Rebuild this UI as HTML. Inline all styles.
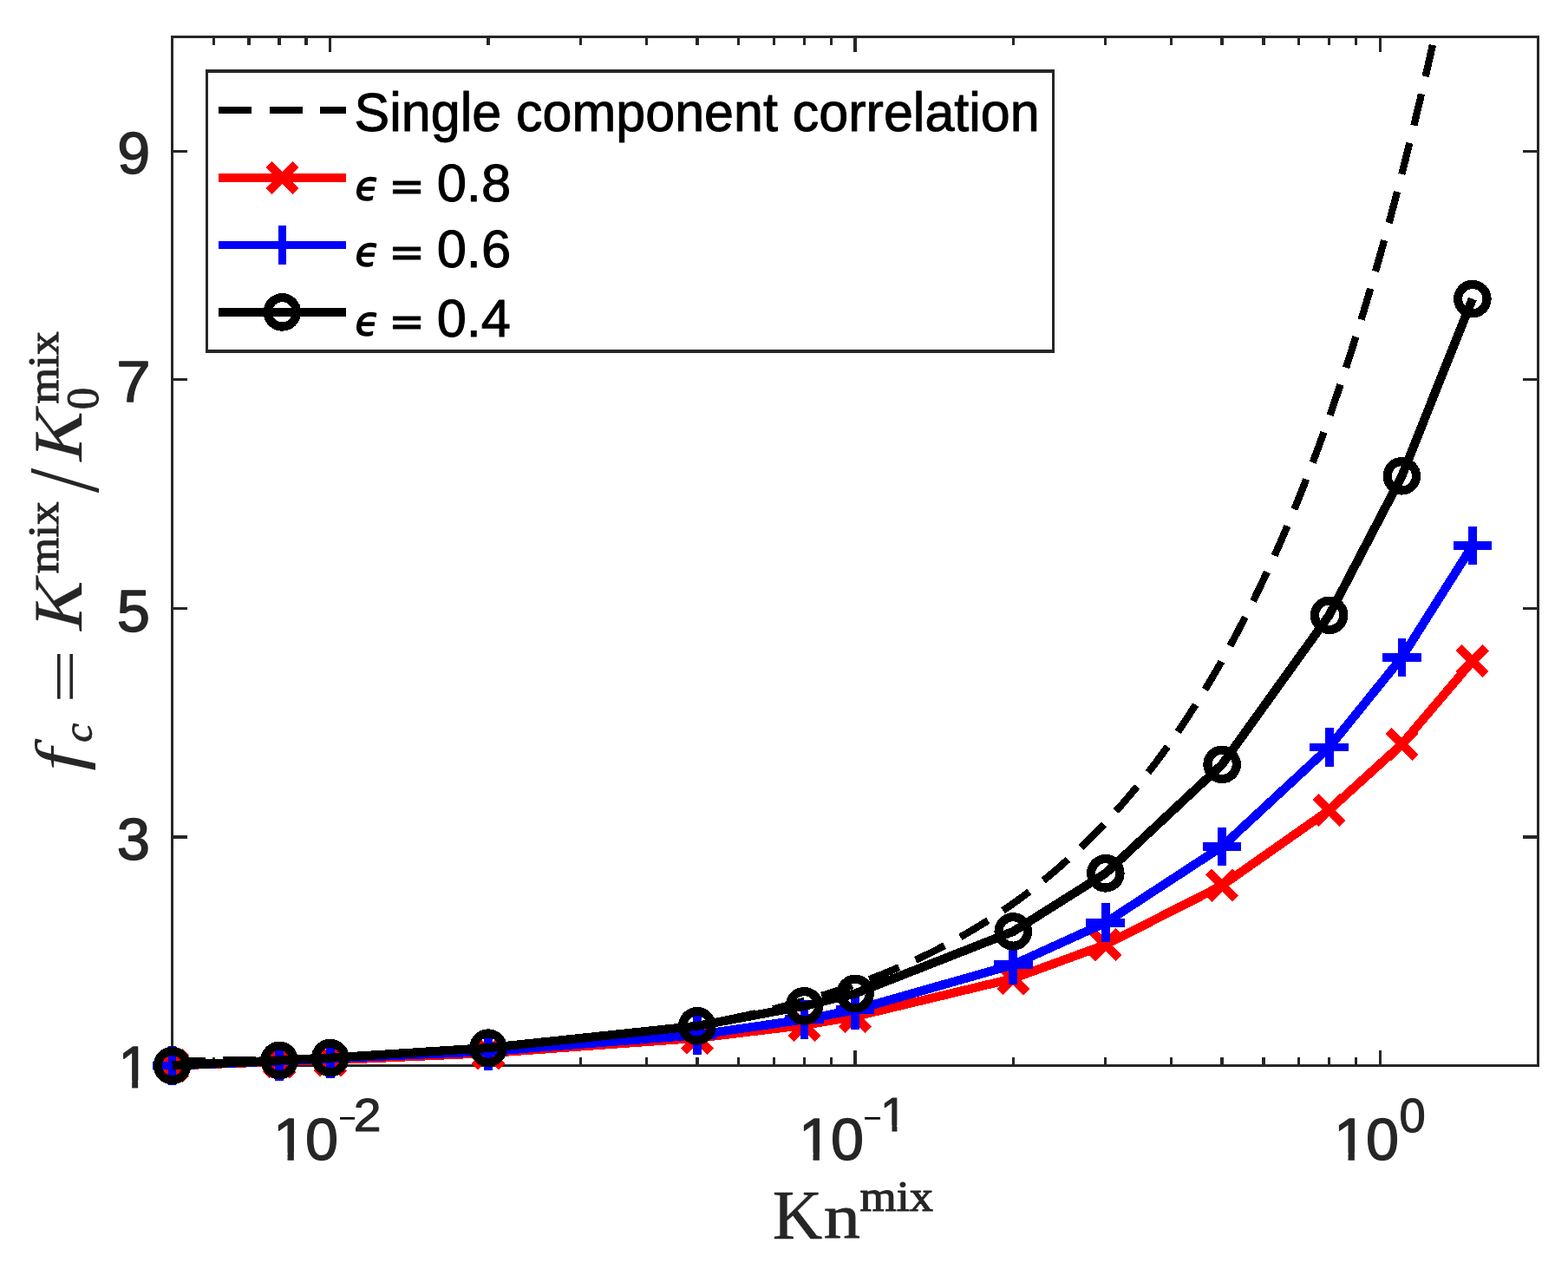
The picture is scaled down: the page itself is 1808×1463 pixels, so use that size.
<!DOCTYPE html>
<html lang="en"><head><meta charset="utf-8"><title>Kn mix</title>
<style>
html,body{margin:0;padding:0;background:#fff}
svg{display:block}
</style></head><body>
<svg width="1808" height="1463" viewBox="0 0 1808 1463" shape-rendering="crispEdges">
<rect width="1808" height="1463" fill="#fff"/>
<defs><clipPath id="cp"><rect x="198.6" y="42.5" width="1574.9" height="1186.0"/></clipPath><clipPath id="c10" shape-rendering="geometricPrecision"><rect x="0" y="-80" width="125" height="67.5"/><rect x="24.3" y="-13.5" width="10.6" height="14.5"/><rect x="55" y="-13.5" width="65" height="17"/></clipPath><clipPath id="c1" shape-rendering="geometricPrecision"><rect x="0" y="-80" width="60" height="67.5"/><rect x="24.3" y="-13.5" width="10.6" height="14.5"/></clipPath></defs>
<g fill="none" stroke="#262626"><path stroke-width="3.3" d="M246.52 1228.5v-9.1M246.52 42.5v9.1M287.04 1228.5v-9.1M287.04 42.5v9.1M322.14 1228.5v-9.1M322.14 42.5v9.1M353.1 1228.5v-9.1M353.1 42.5v9.1M380.8 1228.5v-17.3M380.8 42.5v17.3M563 1228.5v-9.1M563 42.5v9.1M669.58 1228.5v-9.1M669.58 42.5v9.1M745.2 1228.5v-9.1M745.2 42.5v9.1M803.85 1228.5v-9.1M803.85 42.5v9.1M851.78 1228.5v-9.1M851.78 42.5v9.1M892.3 1228.5v-9.1M892.3 42.5v9.1M927.4 1228.5v-9.1M927.4 42.5v9.1M958.36 1228.5v-9.1M958.36 42.5v9.1M986.05 1228.5v-17.3M986.05 42.5v17.3M1168.25 1228.5v-9.1M1168.25 42.5v9.1M1274.83 1228.5v-9.1M1274.83 42.5v9.1M1350.45 1228.5v-9.1M1350.45 42.5v9.1M1409.1 1228.5v-9.1M1409.1 42.5v9.1M1457.03 1228.5v-9.1M1457.03 42.5v9.1M1497.55 1228.5v-9.1M1497.55 42.5v9.1M1532.65 1228.5v-9.1M1532.65 42.5v9.1M1563.61 1228.5v-9.1M1563.61 42.5v9.1M1591.3 1228.5v-17.3M1591.3 42.5v17.3M198.6 964.94h17.3M1773.5 964.94h-17.3M198.6 701.39h17.3M1773.5 701.39h-17.3M198.6 437.83h17.3M1773.5 437.83h-17.3M198.6 174.28h17.3M1773.5 174.28h-17.3"/><rect stroke-width="2.8" x="198.6" y="42.5" width="1574.9" height="1186.0"/></g>
<text font-size="100" transform="matrix(0.682 0 0 0.6849 135.32 199.62)" font-family="'Liberation Sans',sans-serif" fill="#262626" stroke="#262626" stroke-width="2.05" stroke-linejoin="round">9</text>
<text font-size="100" transform="matrix(0.7084 0 0 0.6739 134.31 463.2)" font-family="'Liberation Sans',sans-serif" fill="#262626" stroke="#262626" stroke-width="2.03" stroke-linejoin="round">7</text>
<text font-size="100" transform="matrix(0.6887 0 0 0.68 134.85 727.52)" font-family="'Liberation Sans',sans-serif" fill="#262626" stroke="#262626" stroke-width="2.05" stroke-linejoin="round">5</text>
<text font-size="100" transform="matrix(0.6887 0 0 0.6877 134.85 990.51)" font-family="'Liberation Sans',sans-serif" fill="#262626" stroke="#262626" stroke-width="2.03" stroke-linejoin="round">3</text>
<text font-size="100" transform="matrix(0.6513 0 0 0.6855 136.4 1254)" font-family="'Liberation Sans',sans-serif" fill="#262626" stroke="#262626" stroke-width="2.1" stroke-linejoin="round" clip-path="url(#c1)">1</text>
<text font-size="100" transform="matrix(0.684 0 0 0.689 314.96 1337.4)" font-family="'Liberation Sans',sans-serif" letter-spacing="-1.42" fill="#262626" stroke="#262626" stroke-width="2.04" stroke-linejoin="round" clip-path="url(#c10)">10</text><text font-size="100" transform="matrix(0.3493 0 0 0.3818 390.25 1302.23)" font-family="'Liberation Sans',sans-serif" fill="#000">−</text><text font-size="100" transform="matrix(0.5715 0 0 0.544 407.69 1304.35)" font-family="'Liberation Sans',sans-serif" fill="#262626" stroke="#262626" stroke-width="1.97" stroke-linejoin="round">2</text>
<text font-size="100" transform="matrix(0.684 0 0 0.689 920.96 1337.4)" font-family="'Liberation Sans',sans-serif" letter-spacing="-1.42" fill="#262626" stroke="#262626" stroke-width="2.04" stroke-linejoin="round" clip-path="url(#c10)">10</text><text font-size="100" transform="matrix(0.3678 0 0 0.3818 995.26 1302.23)" font-family="'Liberation Sans',sans-serif" fill="#000">−</text><text font-size="100" transform="matrix(0.5526 0 0 0.5464 1015.11 1304.35)" font-family="'Liberation Sans',sans-serif" fill="#262626" stroke="#262626" stroke-width="2" stroke-linejoin="round" clip-path="url(#c1)">1</text>
<text font-size="100" transform="matrix(0.684 0 0 0.689 1537.96 1337.4)" font-family="'Liberation Sans',sans-serif" letter-spacing="-1.42" fill="#262626" stroke="#262626" stroke-width="2.04" stroke-linejoin="round" clip-path="url(#c10)">10</text><text font-size="100" transform="matrix(0.5434 0 0 0.5476 1613.48 1304.8)" font-family="'Liberation Sans',sans-serif" fill="#262626" stroke="#262626" stroke-width="2.02" stroke-linejoin="round">0</text>
<text font-size="100" transform="matrix(0.7961 0 0 0.7964 890.76 1427.55)" font-family="'Liberation Serif',serif" fill="#262626" stroke="#262626" stroke-width="0.63" stroke-linejoin="round">K<tspan x="74.07" y="-0.1" font-size="90.29" textLength="52.98" lengthAdjust="spacingAndGlyphs" stroke-width="1">n</tspan></text><text font-size="100" transform="matrix(0.5435 0 0 0.5035 991.51 1396.1)" font-family="'Liberation Serif',serif" fill="#262626" stroke="#262626" stroke-width="2.29" stroke-linejoin="round">mix</text>
<g transform="rotate(-90)"><text font-size="100" transform="matrix(0.9474 0 0 0.7658 -888.76 93.76)" font-family="'Liberation Serif',serif" font-style="italic" fill="#262626">f</text><text font-size="100" transform="matrix(0.5008 0 0 0.4917 -855.9 105.71)" font-family="'Liberation Serif',serif" font-style="italic" fill="#262626" stroke="#262626" stroke-width="1.61" stroke-linejoin="round">c</text><text font-size="100" transform="matrix(1.1121 0 0 0.72 -811.26 98.68)" font-family="'Liberation Serif',serif" fill="#262626">=</text><text font-size="100" transform="matrix(0.8143 0 -0.203 0.7995 -730.29 93.65)" font-family="'Liberation Serif',serif" fill="#262626" stroke="#262626" stroke-width="0.37" stroke-linejoin="round">K</text><text font-size="100" transform="matrix(0.533 0 0 0.5095 -661.27 66.5)" font-family="'Liberation Serif',serif" fill="#262626" stroke="#262626" stroke-width="2.3" stroke-linejoin="round">mix</text><text font-size="100" transform="matrix(1.0265 0 0 1.1597 -568.2 112.54)" font-family="'Liberation Serif',serif" fill="#262626">/</text><text font-size="100" transform="matrix(0.8143 0 -0.203 0.7995 -534.99 93.65)" font-family="'Liberation Serif',serif" fill="#262626" stroke="#262626" stroke-width="0.37" stroke-linejoin="round">K</text><text font-size="100" transform="matrix(0.5109 0 0 0.5257 -472.37 113.17)" font-family="'Liberation Serif',serif" fill="#262626" stroke="#262626" stroke-width="1.93" stroke-linejoin="round">0</text><text font-size="100" transform="matrix(0.535 0 0 0.5095 -465.57 66.5)" font-family="'Liberation Serif',serif" fill="#262626" stroke="#262626" stroke-width="2.3" stroke-linejoin="round">mix</text></g>
<polyline clip-path="url(#cp)" points="198.6,1223.83 204.24,1223.73 209.88,1223.62 215.53,1223.52 221.17,1223.41 226.81,1223.3 232.45,1223.19 238.1,1223.07 243.74,1222.95 249.38,1222.83 255.02,1222.71 260.67,1222.58 266.31,1222.46 271.95,1222.32 277.59,1222.19 283.24,1222.05 288.88,1221.91 294.52,1221.77 300.16,1221.63 305.81,1221.48 311.45,1221.32 317.09,1221.17 322.73,1221.01 328.38,1220.85 334.02,1220.68 339.66,1220.51 345.3,1220.34 350.95,1220.16 356.59,1219.98 362.23,1219.79 367.87,1219.61 373.52,1219.41 379.16,1219.22 384.8,1219.01 390.44,1218.81 396.09,1218.6 401.73,1218.38 407.37,1218.16 413.01,1217.94 418.66,1217.71 424.3,1217.48 429.94,1217.24 435.58,1216.99 441.23,1216.74 446.87,1216.49 452.51,1216.23 458.15,1215.96 463.8,1215.69 469.44,1215.41 475.08,1215.13 480.72,1214.84 486.37,1214.54 492.01,1214.24 497.65,1213.93 503.29,1213.61 508.94,1213.29 514.58,1212.96 520.22,1212.62 525.86,1212.28 531.51,1211.92 537.15,1211.56 542.79,1211.2 548.43,1210.82 554.08,1210.44 559.72,1210.05 565.36,1209.65 571,1209.24 576.65,1208.82 582.29,1208.39 587.93,1207.96 593.57,1207.51 599.22,1207.05 604.86,1206.59 610.5,1206.11 616.14,1205.63 621.79,1205.13 627.43,1204.62 633.07,1204.11 638.71,1203.58 644.36,1203.04 650,1202.48 655.64,1201.92 661.28,1201.34 666.93,1200.75 672.57,1200.15 678.21,1199.54 683.85,1198.91 689.49,1198.27 695.14,1197.61 700.78,1196.94 706.42,1196.25 712.06,1195.55 717.71,1194.84 723.35,1194.11 728.99,1193.36 734.63,1192.6 740.28,1191.82 745.92,1191.03 751.56,1190.21 757.2,1189.38 762.85,1188.53 768.49,1187.67 774.13,1186.78 779.77,1185.87 785.42,1184.95 791.06,1184 796.7,1183.04 802.34,1182.05 807.99,1181.05 813.63,1180.02 819.27,1178.96 824.91,1177.89 830.56,1176.79 836.2,1175.67 841.84,1174.52 847.48,1173.35 853.13,1172.15 858.77,1170.93 864.41,1169.68 870.05,1168.41 875.7,1167.1 881.34,1165.77 886.98,1164.41 892.62,1163.02 898.27,1161.6 903.91,1160.15 909.55,1158.66 915.19,1157.15 920.84,1155.6 926.48,1154.02 932.12,1152.4 937.76,1150.75 943.41,1149.06 949.05,1147.34 954.69,1145.58 960.33,1143.78 965.98,1141.94 971.62,1140.06 977.26,1138.14 982.9,1136.18 988.55,1134.18 994.19,1132.13 999.83,1130.04 1005.47,1127.91 1011.12,1125.72 1016.76,1123.49 1022.4,1121.22 1028.04,1118.89 1033.69,1116.51 1039.33,1114.08 1044.97,1111.6 1050.61,1109.06 1056.26,1106.47 1061.9,1103.82 1067.54,1101.12 1073.18,1098.35 1078.83,1095.53 1084.47,1092.64 1090.11,1089.69 1095.75,1086.68 1101.4,1083.61 1107.04,1080.46 1112.68,1077.25 1118.32,1073.97 1123.97,1070.61 1129.61,1067.19 1135.25,1063.69 1140.89,1060.11 1146.54,1056.46 1152.18,1052.73 1157.82,1048.91 1163.46,1045.02 1169.11,1041.03 1174.75,1036.97 1180.39,1032.81 1186.03,1028.56 1191.67,1024.23 1197.32,1019.79 1202.96,1015.27 1208.6,1010.64 1214.24,1005.91 1219.89,1001.08 1225.53,996.15 1231.17,991.11 1236.81,985.96 1242.46,980.69 1248.1,975.32 1253.74,969.82 1259.38,964.21 1265.03,958.47 1270.67,952.62 1276.31,946.63 1281.95,940.51 1287.6,934.26 1293.24,927.88 1298.88,921.36 1304.52,914.69 1310.17,907.88 1315.81,900.93 1321.45,893.82 1327.09,886.56 1332.74,879.14 1338.38,871.56 1344.02,863.81 1349.66,855.9 1355.31,847.82 1360.95,839.56 1366.59,831.12 1372.23,822.49 1377.88,813.68 1383.52,804.68 1389.16,795.49 1394.8,786.09 1400.45,776.49 1406.09,766.69 1411.73,756.66 1417.37,746.43 1423.02,735.97 1428.66,725.28 1434.3,714.36 1439.94,703.21 1445.59,691.81 1451.23,680.16 1456.87,668.26 1462.51,656.11 1468.16,643.69 1473.8,631 1479.44,618.03 1485.08,604.79 1490.73,591.26 1496.37,577.43 1502.01,563.3 1507.65,548.87 1513.3,534.12 1518.94,519.06 1524.58,503.66 1530.22,487.93 1535.87,471.87 1541.51,455.45 1547.15,438.67 1552.79,421.54 1558.44,404.03 1564.08,386.14 1569.72,367.86 1575.36,349.19 1581.01,330.11 1586.65,310.61 1592.29,290.7 1597.93,270.35 1603.58,249.56 1609.22,228.32 1614.86,206.62 1620.5,184.44 1626.15,161.79 1631.79,138.64 1637.43,115 1643.07,90.84 1648.72,66.15 1654.36,40.93 1660,15.16" fill="none" stroke="#000" stroke-width="8.3" stroke-dasharray="37.3 20.7" stroke-dashoffset="57.2"/>
<polyline points="198.6,1228.5 322.14,1224 380.8,1222.3 563,1214.1 803.85,1196.8 927.4,1181.9 986.05,1171.9 1168.25,1128.1 1274.83,1089.1 1409.1,1020.8 1532.65,934 1616.35,858 1697.88,762.1" fill="none" stroke="#f00" stroke-width="10.2" stroke-linejoin="miter" stroke-linecap="butt"/>
<path d="M186.7 1216.6L210.5 1240.4M186.7 1240.4L210.5 1216.6M310.24 1212.1L334.04 1235.9M310.24 1235.9L334.04 1212.1M368.9 1210.4L392.7 1234.2M368.9 1234.2L392.7 1210.4M551.1 1202.2L574.9 1226M551.1 1226L574.9 1202.2M791.95 1184.9L815.75 1208.7M791.95 1208.7L815.75 1184.9M915.5 1170L939.3 1193.8M915.5 1193.8L939.3 1170M974.15 1160L997.95 1183.8M974.15 1183.8L997.95 1160M1156.35 1116.2L1180.15 1140M1156.35 1140L1180.15 1116.2M1262.93 1077.2L1286.73 1101M1262.93 1101L1286.73 1077.2M1397.2 1008.9L1421 1032.7M1397.2 1032.7L1421 1008.9M1520.75 922.1L1544.55 945.9M1520.75 945.9L1544.55 922.1M1604.45 846.1L1628.25 869.9M1604.45 869.9L1628.25 846.1M1685.98 750.2L1709.78 774M1685.98 774L1709.78 750.2" fill="none" stroke="#f00" stroke-width="10.2" stroke-linecap="square"/>
<polyline points="198.6,1228.5 322.14,1223.3 380.8,1220.3 563,1212.1 803.85,1193.2 927.4,1175.3 986.05,1164.2 1168.25,1112.2 1274.83,1063.7 1409.1,976 1532.65,861.5 1616.35,758 1697.88,628.95" fill="none" stroke="#00f" stroke-width="10.2" stroke-linejoin="miter" stroke-linecap="butt"/>
<path d="M181.1 1228.5H216.1M198.6 1211V1246M304.64 1223.3H339.64M322.14 1205.8V1240.8M363.3 1220.3H398.3M380.8 1202.8V1237.8M545.5 1212.1H580.5M563 1194.6V1229.6M786.35 1193.2H821.35M803.85 1175.7V1210.7M909.9 1175.3H944.9M927.4 1157.8V1192.8M968.55 1164.2H1003.55M986.05 1146.7V1181.7M1150.75 1112.2H1185.75M1168.25 1094.7V1129.7M1257.33 1063.7H1292.33M1274.83 1046.2V1081.2M1391.6 976H1426.6M1409.1 958.5V993.5M1515.15 861.5H1550.15M1532.65 844V879M1598.85 758H1633.85M1616.35 740.5V775.5M1680.38 628.95H1715.38M1697.88 611.45V646.45" fill="none" stroke="#00f" stroke-width="9.7" stroke-linecap="square"/>
<polyline points="198.6,1228.5 322.14,1222.5 380.8,1219.6 563,1208.1 803.85,1182.8 927.4,1159.8 986.05,1145.5 1168.25,1073.95 1274.83,1006.8 1409.1,881.35 1532.65,709.3 1616.35,548.8 1697.88,344.6" fill="none" stroke="#000" stroke-width="10.2" stroke-linejoin="miter" stroke-linecap="butt"/>
<g fill="none" stroke="#000" stroke-width="10.2"><circle cx="198.6" cy="1228.5" r="16.7"/><circle cx="322.14" cy="1222.5" r="16.7"/><circle cx="380.8" cy="1219.6" r="16.7"/><circle cx="563" cy="1208.1" r="16.7"/><circle cx="803.85" cy="1182.8" r="16.7"/><circle cx="927.4" cy="1159.8" r="16.7"/><circle cx="986.05" cy="1145.5" r="16.7"/><circle cx="1168.25" cy="1073.95" r="16.7"/><circle cx="1274.83" cy="1006.8" r="16.7"/><circle cx="1409.1" cy="881.35" r="16.7"/><circle cx="1532.65" cy="709.3" r="16.7"/><circle cx="1616.35" cy="548.8" r="16.7"/><circle cx="1697.88" cy="344.6" r="16.7"/></g>
<rect x="238.6" y="81.8" width="975.9" height="323.1" fill="#fff" stroke="#262626" stroke-width="3.4"/>
<path d="M252.0 127.0H399.2" stroke="#000" stroke-width="8.3" stroke-dasharray="38 20.5" fill="none"/>
<path d="M252.0 204.9H399.2" stroke="#f00" stroke-width="10.2" fill="none"/>
<path d="M313.5 193L337.3 216.8M313.5 216.8L337.3 193" stroke="#f00" stroke-width="10.2" stroke-linecap="square" fill="none"/>
<path d="M252.0 282.4H399.2" stroke="#00f" stroke-width="9.2" fill="none"/>
<path d="M307.6 282.4H343.2M325.4 264.6V300.2" stroke="#00f" stroke-width="9.2" stroke-linecap="square" fill="none"/>
<path d="M252.0 359.9H399.2" stroke="#000" stroke-width="10.2" fill="none"/>
<circle cx="325.4" cy="359.9" r="16.7" stroke="#000" stroke-width="10.2" fill="none"/>
<text font-size="100" transform="matrix(0.6102 0 0 0.6229 408.55 150.54)" font-family="'Liberation Sans',sans-serif" fill="#000" stroke="#000" stroke-width="1.62" stroke-linejoin="round">Single component correlation</text>
<text font-family="'Liberation Sans',sans-serif" font-size="61.5" fill="#000" stroke="#000" stroke-width="1" stroke-linejoin="round"><tspan x="409.6" y="229.6" font-family="'DejaVu Sans',sans-serif" font-style="italic" font-size="45.5" stroke-width="1.3">ϵ</tspan> <tspan x="447.97" y="231.5" font-family="'DejaVu Sans',sans-serif" font-size="50.3" stroke-width="0.8">=</tspan> <tspan x="503.63" y="231.5">0.8</tspan></text>
<text font-family="'Liberation Sans',sans-serif" font-size="61.5" fill="#000" stroke="#000" stroke-width="1" stroke-linejoin="round"><tspan x="409.6" y="305.7" font-family="'DejaVu Sans',sans-serif" font-style="italic" font-size="45.5" stroke-width="1.3">ϵ</tspan> <tspan x="447.97" y="307.9" font-family="'DejaVu Sans',sans-serif" font-size="50.3" stroke-width="0.8">=</tspan> <tspan x="503.63" y="307.8">0.6</tspan></text>
<text font-family="'Liberation Sans',sans-serif" font-size="61.3" fill="#000" stroke="#000" stroke-width="1" stroke-linejoin="round"><tspan x="409.6" y="385.8" font-family="'DejaVu Sans',sans-serif" font-style="italic" font-size="45.5" stroke-width="1.3">ϵ</tspan> <tspan x="447.97" y="387.5" font-family="'DejaVu Sans',sans-serif" font-size="50.3" stroke-width="0.8">=</tspan> <tspan x="503.63" y="387.5">0.4</tspan></text>
</svg></body></html>
